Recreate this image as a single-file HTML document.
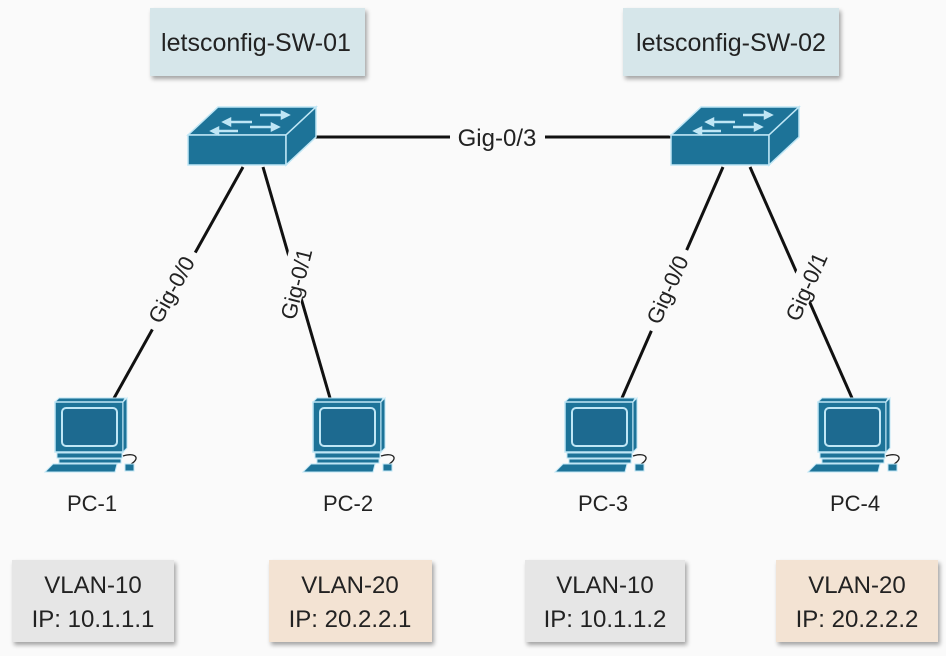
<!DOCTYPE html>
<html><head><meta charset="utf-8"><style>
html,body{margin:0;padding:0;background:#fafafa;}
svg{display:block;font-family:"Liberation Sans",sans-serif;}
</style></head><body>
<svg width="946" height="656" viewBox="0 0 946 656">
<defs>
<filter id="sh" x="-10%" y="-10%" width="130%" height="140%"><feDropShadow dx="2" dy="3" stdDeviation="2" flood-color="#000" flood-opacity="0.35"/></filter>
<g id="sw">
 <polygon points="0,30 30,2 128,2 98,30" fill="#1d7398" stroke="#bfe6f5" stroke-width="1.5"/>
 <rect x="0" y="30" width="98" height="30" fill="#1d7398" stroke="#bfe6f5" stroke-width="1.5"/>
 <polygon points="98,30 128,2 128,32 98,60" fill="#1d7398" stroke="#bfe6f5" stroke-width="1.5"/>
 <g stroke="#bfe6f5" stroke-width="2.5" fill="#bfe6f5">
  <line x1="72" y1="10" x2="98" y2="10"/><polygon points="100,10 94,7 94,13"/>
  <line x1="38" y1="17" x2="64" y2="17"/><polygon points="36,17 42,14 42,20"/>
  <line x1="62" y1="22" x2="88" y2="22"/><polygon points="90,22 84,19 84,25"/>
  <line x1="26" y1="26" x2="50" y2="26"/><polygon points="24,26 30,23 30,29"/>
 </g>
</g>
<g id="pc">
 <polygon points="10,4 14,0 80,0 78,4" fill="#1d7398" stroke="#bfe6f5"/>
 <rect x="10" y="4" width="68" height="50" fill="#1d7398" stroke="#bfe6f5" stroke-width="1.5"/>
 <polygon points="78,4 82,0 82,50 78,54" fill="#1d7398" stroke="#bfe6f5"/>
 <rect x="17" y="10" width="55" height="38" rx="4" fill="#1d6a90" stroke="#bfe6f5" stroke-width="2"/>
 <rect x="12" y="55" width="65" height="5" fill="#1d7398" stroke="#bfe6f5"/>
 <rect x="14" y="61" width="62" height="4" fill="#1d7398" stroke="#bfe6f5"/>
 <polygon points="8,66 72,66 70,74 0,74" fill="#1d7398" stroke="#bfe6f5"/>
 <path d="M78,58 C90,54 96,60 86,66" fill="none" stroke="#222" stroke-width="1.3"/>
 <rect x="80" y="66" width="9" height="7" fill="#1d7398" stroke="#bfe6f5"/>
</g>
</defs>

<rect x="150" y="8" width="215" height="68" fill="#d6e6ea" filter="url(#sh)"/>
<text x="256" y="51" font-size="25" text-anchor="middle" fill="#222">letsconfig-SW-01</text>
<rect x="623" y="8" width="216" height="68" fill="#d6e6ea" filter="url(#sh)"/>
<text x="731" y="51" font-size="25" text-anchor="middle" fill="#222">letsconfig-SW-02</text>

<g stroke="#111" stroke-width="3">
 <line x1="313" y1="137" x2="450" y2="137"/><line x1="545" y1="137" x2="672" y2="137"/>
 <line x1="243" y1="167" x2="113" y2="400"/>
 <line x1="263" y1="167" x2="330" y2="398"/>
 <line x1="723" y1="167" x2="622" y2="398"/>
 <line x1="750" y1="167" x2="852" y2="398"/>
</g>
<rect x="452" y="123" width="92" height="28" fill="#fafafa"/>
<text x="497" y="146" font-size="24" text-anchor="middle" fill="#222">Gig-0/3</text>

<g font-size="22" fill="#222" text-anchor="middle">
 <g transform="translate(172,290) rotate(-61)"><rect x="-44" y="-16" width="88" height="24" fill="#fafafa"/><text x="0" y="7">Gig-0/0</text></g>
 <g transform="translate(297,284) rotate(-76)"><rect x="-44" y="-16" width="88" height="24" fill="#fafafa"/><text x="0" y="7">Gig-0/1</text></g>
 <g transform="translate(668,290) rotate(-66)"><rect x="-44" y="-16" width="88" height="24" fill="#fafafa"/><text x="0" y="7">Gig-0/0</text></g>
 <g transform="translate(807,287) rotate(-66)"><rect x="-44" y="-16" width="88" height="24" fill="#fafafa"/><text x="0" y="7">Gig-0/1</text></g>
</g>

<use href="#sw" x="188" y="105"/>
<use href="#sw" x="671" y="105"/>

<use href="#pc" x="45" y="398"/>
<use href="#pc" x="303" y="398"/>
<use href="#pc" x="555" y="398"/>
<use href="#pc" x="808" y="398"/>

<g font-size="22" fill="#222" text-anchor="middle">
 <text x="92" y="511">PC-1</text>
 <text x="348" y="511">PC-2</text>
 <text x="603" y="511">PC-3</text>
 <text x="855" y="511">PC-4</text>
</g>

<rect x="12" y="560" width="162" height="82" fill="#e6e6e6" filter="url(#sh)"/>
<rect x="269" y="560" width="163" height="82" fill="#f3e3d3" filter="url(#sh)"/>
<rect x="525" y="560" width="160" height="82" fill="#e6e6e6" filter="url(#sh)"/>
<rect x="776" y="560" width="162" height="82" fill="#f3e3d3" filter="url(#sh)"/>
<g font-size="24" fill="#222" text-anchor="middle">
 <text x="93" y="593">VLAN-10</text><text x="93" y="627">IP: 10.1.1.1</text>
 <text x="350" y="593">VLAN-20</text><text x="350" y="627">IP: 20.2.2.1</text>
 <text x="605" y="593">VLAN-10</text><text x="605" y="627">IP: 10.1.1.2</text>
 <text x="857" y="593">VLAN-20</text><text x="857" y="627">IP: 20.2.2.2</text>
</g>
</svg>
</body></html>
